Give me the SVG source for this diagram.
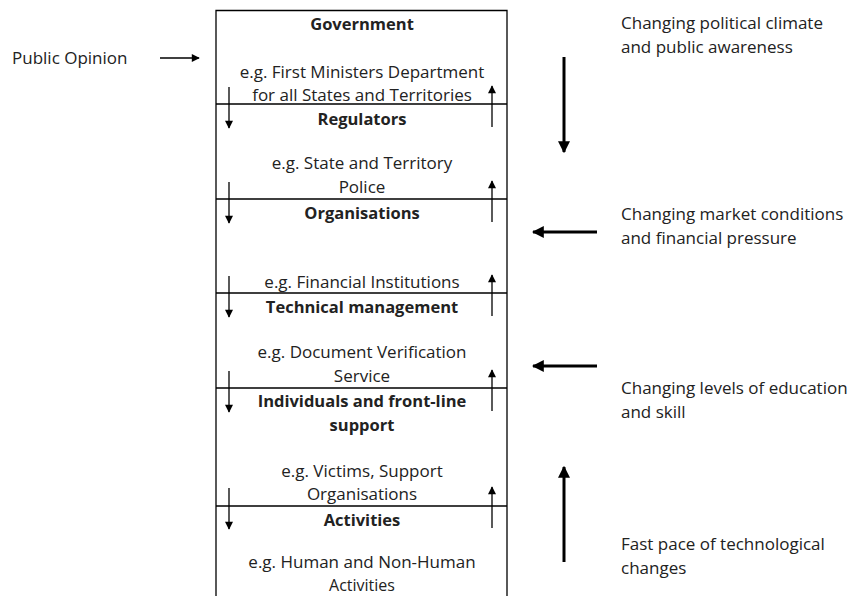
<svg xmlns="http://www.w3.org/2000/svg" width="850" height="596" viewBox="0 0 850 596">
<defs>
<marker id="ah" viewBox="0 0 10 10" refX="9" refY="5" markerWidth="10" markerHeight="8" markerUnits="userSpaceOnUse" orient="auto"><path d="M0,0 L10,5 L0,10 z" fill="#000"/></marker>
<marker id="ahb" viewBox="0 0 10 10" refX="9" refY="5" markerWidth="4" markerHeight="4" orient="auto"><path d="M0,0 L10,5 L0,10 z" fill="#000"/></marker>
<style>
text{font-family:"Open Sans","Liberation Sans",Arial,sans-serif;font-size:17px;fill:#222}
.c{text-anchor:middle}
.b{font-weight:bold;font-size:16.5px}
.s{stroke:#000;stroke-width:1.3;fill:none}
.small{stroke:#000;stroke-width:1.3;marker-end:url(#ah)}
.big{stroke:#000;stroke-width:3;marker-end:url(#ahb)}
</style>
</defs>
<rect width="850" height="596" fill="#fff"/>
<g id="layers">
<path class="s" d="M216,620 V10.5 H507 V620"/>
<path class="s" d="M216,104 H507 M216,199 H507 M216,293 H507 M216,388 H507 M216,506 H507"/>
</g>
<g id="government"><text class="c b" x="362" y="30">Government</text><text class="c" x="362" y="78">e.g. First Ministers Department</text><text class="c" x="362" y="101">for all States and Territories</text></g>
<g id="regulators"><text class="c b" x="362" y="125">Regulators</text><text class="c" x="362" y="169">e.g. State and Territory</text><text class="c" x="362" y="193">Police</text></g>
<g id="organisations"><text class="c b" x="362" y="219">Organisations</text><text class="c" x="362" y="288">e.g. Financial Institutions</text></g>
<g id="technical"><text class="c b" x="362" y="313">Technical management</text><text class="c" x="362" y="358">e.g. Document Verification</text><text class="c" x="362" y="382">Service</text></g>
<g id="individuals"><text class="c b" x="362" y="407">Individuals and front-line</text><text class="c b" x="362" y="431">support</text><text class="c" x="362" y="477">e.g. Victims, Support</text><text class="c" x="362" y="500">Organisations</text></g>
<g id="activities"><text class="c b" x="362" y="526">Activities</text><text class="c" x="362" y="568">e.g. Human and Non-Human</text><text class="c" x="362" y="591" style="font-size:16px">Activities</text></g>
<g id="public-opinion"><text x="12" y="64">Public Opinion</text></g>
<g id="political"><text x="621" y="29">Changing political climate</text><text x="621" y="53">and public awareness</text></g>
<g id="market"><text x="621" y="220">Changing market conditions</text><text x="621" y="244">and financial pressure</text></g>
<g id="education"><text x="621" y="394">Changing levels of education</text><text x="621" y="418">and skill</text></g>
<g id="technology"><text x="621" y="550">Fast pace of technological</text><text x="621" y="574">changes</text></g>
<g id="connectors">
<line class="small" x1="160" y1="58" x2="199" y2="58"/>
<line class="small" x1="229" y1="87" x2="229" y2="128"/>
<line class="small" x1="492" y1="127" x2="492" y2="86"/>
<line class="small" x1="229" y1="182" x2="229" y2="223"/>
<line class="small" x1="492" y1="222" x2="492" y2="181"/>
<line class="small" x1="229" y1="276" x2="229" y2="317"/>
<line class="small" x1="492" y1="316" x2="492" y2="275"/>
<line class="small" x1="229" y1="371" x2="229" y2="412"/>
<line class="small" x1="492" y1="411" x2="492" y2="370"/>
<line class="small" x1="229" y1="488" x2="229" y2="529"/>
<line class="small" x1="492" y1="528" x2="492" y2="487"/>
<line class="big" x1="564" y1="57" x2="564" y2="152"/>
<line class="big" x1="597" y1="232" x2="533" y2="232"/>
<line class="big" x1="597" y1="366" x2="533" y2="366"/>
<line class="big" x1="564" y1="562" x2="564" y2="467"/>
</g>
</svg>
